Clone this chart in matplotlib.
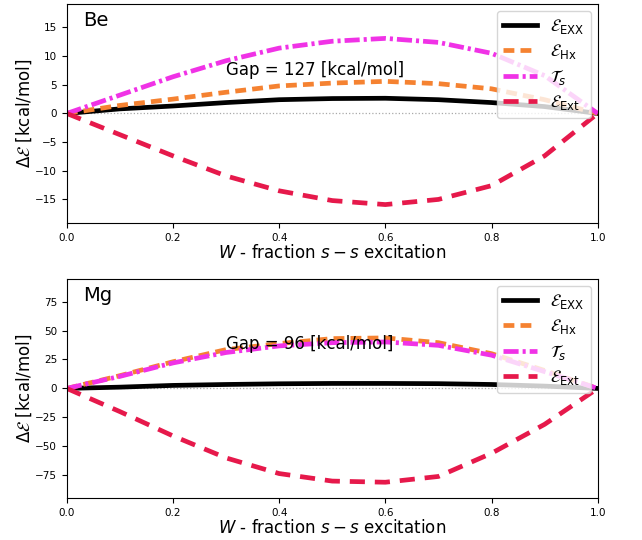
import numpy as np
import matplotlib.pyplot as plt

# fractional occupation W of the excited s orbital
W = [0.0, 0.1, 0.2, 0.3, 0.4, 0.5, 0.6, 0.7, 0.8, 0.9, 1.0]

# Be energy differences [kcal/mol]
be_exx = [0.0, 0.8, 1.3, 1.9, 2.4, 2.6, 2.65, 2.4, 1.9, 1.2, 0.0]
be_hx = [0.0, 1.4, 2.5, 3.7, 4.8, 5.3, 5.6, 5.2, 4.3, 2.4, 0.0]
be_ts = [0.0, 3.2, 6.4, 9.2, 11.4, 12.6, 13.1, 12.4, 10.5, 6.6, 0.0]
be_ext = [0.0, -3.7, -7.4, -10.9, -13.5, -15.2, -15.9, -15.0, -12.6, -7.4, 0.0]

# Mg energy differences [kcal/mol]
mg_exx = [0.0, 1.1, 2.6, 3.4, 4.0, 4.3, 4.3, 4.1, 3.4, 2.0, 0.0]
mg_hx = [0.0, 11.0, 23.0, 33.5, 38.7, 43.0, 43.6, 39.5, 30.0, 15.5, 0.0]
mg_ts = [0.0, 10.4, 22.0, 31.0, 36.7, 39.5, 40.1, 37.2, 28.7, 14.5, 0.0]
mg_ext = [0.0, -20.0, -41.0, -60.0, -73.5, -80.0, -81.0, -76.0, -56.0, -31.0, 0.0]

atoms = ['Be', 'Mg']
gaps = [127, 96]
gap_y = [7.6, 38.5]
ylims = [19.1, 94.5]
data = [(be_exx, be_hx, be_ts, be_ext), (mg_exx, mg_hx, mg_ts, mg_ext)]

labels = [r'$\mathcal{E}_{\rm EXX}$', r'$\mathcal{E}_{\rm Hx}$',
          r'$\mathcal{T}_s$', r'$\mathcal{E}_{\rm Ext}$']
colors = ['black', '#f58231', '#f032e6', '#e6194B']
# dash patterns in units of line width
dashes = [None, (2.3, 1.3), (3.2, 0.85, 0.65, 0.85), (3.2, 2.1)]

fig, axes = plt.subplots(2, 1, figsize=(6.42, 5.4), dpi=100)
fig.subplots_adjust(left=0.104, right=0.931, top=0.9926, bottom=0.078, hspace=0.256)

for ax, atom, gap, gy, lim, series in zip(axes, atoms, gaps, gap_y, ylims, data):
    ax.axhline(0, color='darkgray', ls=':', lw=0.9)
    for y, lab, c, d in zip(series, labels, colors, dashes):
        line, = ax.plot(W, y, color=c, lw=3.4, label=lab)
        if d is not None:
            line.set_dashes(d)
    ax.set_xlim(0, 1)
    ax.set_ylim(-lim, lim)
    ax.text(0.03, 0.97, atom, transform=ax.transAxes, fontsize=14, va='top')
    ax.text(0.3, gy, 'Gap = %d [kcal/mol]' % gap, fontsize=12, va='center')
    ax.set_xlabel(r'$W$ - fraction $s-s$ excitation', fontsize=12, labelpad=1)
    ax.set_ylabel(r'$\Delta\mathcal{E}$ [kcal/mol]', fontsize=12, labelpad=0.5)
    ax.tick_params(labelsize=7.5)
    ax.legend(loc='upper right', fontsize=12, labelspacing=0.35, borderaxespad=0.4)

plt.savefig('out.png')
